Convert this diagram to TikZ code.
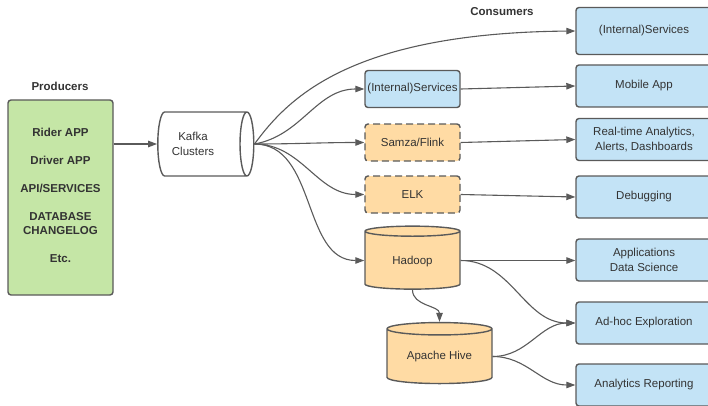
\documentclass[tikz,border=0pt]{standalone}
\usepackage{fontspec}
\setmainfont{Liberation Sans}
\usetikzlibrary{
	arrows.meta,
	shapes.geometric
}
\definecolor{prodgreen}{HTML}{C5E6A6}
\definecolor{svcblue}{HTML}{C3E3F6}
\definecolor{toolorange}{HTML}{FFDBA4}
\definecolor{edgegray}{HTML}{5A5A5A}
\definecolor{textgray}{HTML}{333333}

\begin{document}
\begin{tikzpicture}[
    x=1pt,y=1pt,
    font=\fontsize{11.5}{14.5}\selectfont,text=textgray,
    box/.style = { draw=edgegray,line width=1.4pt,rounded corners=3pt,minimum width=95pt,minimum height=37pt,inner sep=0pt,align=center },
    sink/.style = { box,fill=svcblue,minimum width=136pt,minimum height=42pt },
    tool/.style = { box,fill=toolorange,dash pattern=on 7pt off 4pt },
    store/.style = { cylinder,draw=edgegray,line width=1.4pt,fill=toolorange,shape border rotate=90,inner sep=0pt,align=center },
    title/.style = { font=\fontsize{11.5}{14}\selectfont\bfseries },
    arrowstyle/.style = { -{Triangle[length=9pt,width=6.5pt]},draw=edgegray,line width=1.1pt }
    ]
    \useasboundingbox (0,0) rectangle (708,405);
    % Definitions
    \coordinate (prd)  at ( 60.5,207.5);
    \coordinate (kfk)  at (202  ,261  );
    \coordinate (isv)  at (412.5,316  );
    \coordinate (smz)  at (412.5,262.5);
    \coordinate (elk)  at (412.5,210.5);
    \coordinate (hdp)  at (412.5,144.5);
    \coordinate (hiv)  at (439.5, 48.5);
    \coordinate (svc)  at (644  ,374  );
    \coordinate (mob)  at (644  ,319  );
    \coordinate (rta)  at (644  ,265.5);
    \coordinate (dbg)  at (644  ,208  );
    \coordinate (app)  at (644  ,145  );
    \coordinate (adh)  at (644  , 82  );
    \coordinate (rep)  at (644  , 20  );
    % Nodes
    \node(PT) at (60,319)  [title] {Producers};
    \node(CT) at (502,393) [title] {Consumers};
    \node(P)  at (prd) [box,fill=prodgreen,minimum width=105pt,minimum height=195pt,
                        font=\fontsize{11.5}{14}\selectfont\bfseries]
        {Rider APP\\[14pt]Driver APP\\[14pt]API/SERVICES\\[14pt]DATABASE\\CHANGELOG\\[14pt]Etc.\\[-10pt]};
    \node(K)  at (kfk) [store,fill=white,shape border rotate=0,aspect=0.6,
                        minimum width=64pt,minimum height=96pt]
        {Kafka\hspace*{18pt}\\Clusters\hspace*{18pt}};
    \node(I)  at (isv) [box,fill=svcblue]  {(Internal)Services};
    \node(S)  at (smz) [tool]              {Samza/Flink};
    \node(E)  at (elk) [tool]              {ELK};
    \node(H)  at (hdp) [store,aspect=0.25,minimum width=95pt,minimum height=63pt]
        {\raisebox{-10pt}{Hadoop}};
    \node(A)  at (hiv) [store,aspect=0.19,minimum width=105pt,minimum height=61pt]
        {\raisebox{-8pt}{Apache Hive}};
    \node(s1) at (svc) [sink,minimum height=47pt] {(Internal)Services};
    \node(s2) at (mob) [sink] {Mobile App};
    \node(s3) at (rta) [sink] {Real-time Analytics,\\Alerts, Dashboards};
    \node(s4) at (dbg) [sink] {Debugging};
    \node(s5) at (app) [sink] {Applications\\Data Science};
    \node(s6) at (adh) [sink] {Ad-hoc Exploration};
    \node(s7) at (rep) [sink] {Analytics Reporting};
    % Arrows
    \draw[arrowstyle] (P.east |- K.west) -- (K.west);
    \draw[arrowstyle] (K.east) .. controls +(33,45) and +(-226,-2) .. (s1.west);
    \draw[arrowstyle] (K.east) to[out=10,in=180] (I.west);
    \draw[arrowstyle] (K.east) to[out=0,in=180]  (S.west);
    \draw[arrowstyle] (K.east) to[out=0,in=180]  (E.west);
    \draw[arrowstyle] (K.east) to[out=0,in=180]  (H.west);
    \draw[arrowstyle] (I.east) -- (s2.west);
    \draw[arrowstyle] (S.east) -- (s3.west);
    \draw[arrowstyle] (E.east) -- (s4.west);
    \draw[arrowstyle] (H.east) -- (H.east -| s5.west);
    \draw[arrowstyle] (H.east) to[out=0,in=180]   (s6.west);
    \draw[arrowstyle] (H.south) to[out=-90,in=90] (A.north);
    \draw[arrowstyle] (A.east) to[out=0,in=180]   (s6.west);
    \draw[arrowstyle] (A.east) to[out=0,in=180]   (s7.west);
\end{tikzpicture}
\end{document}
